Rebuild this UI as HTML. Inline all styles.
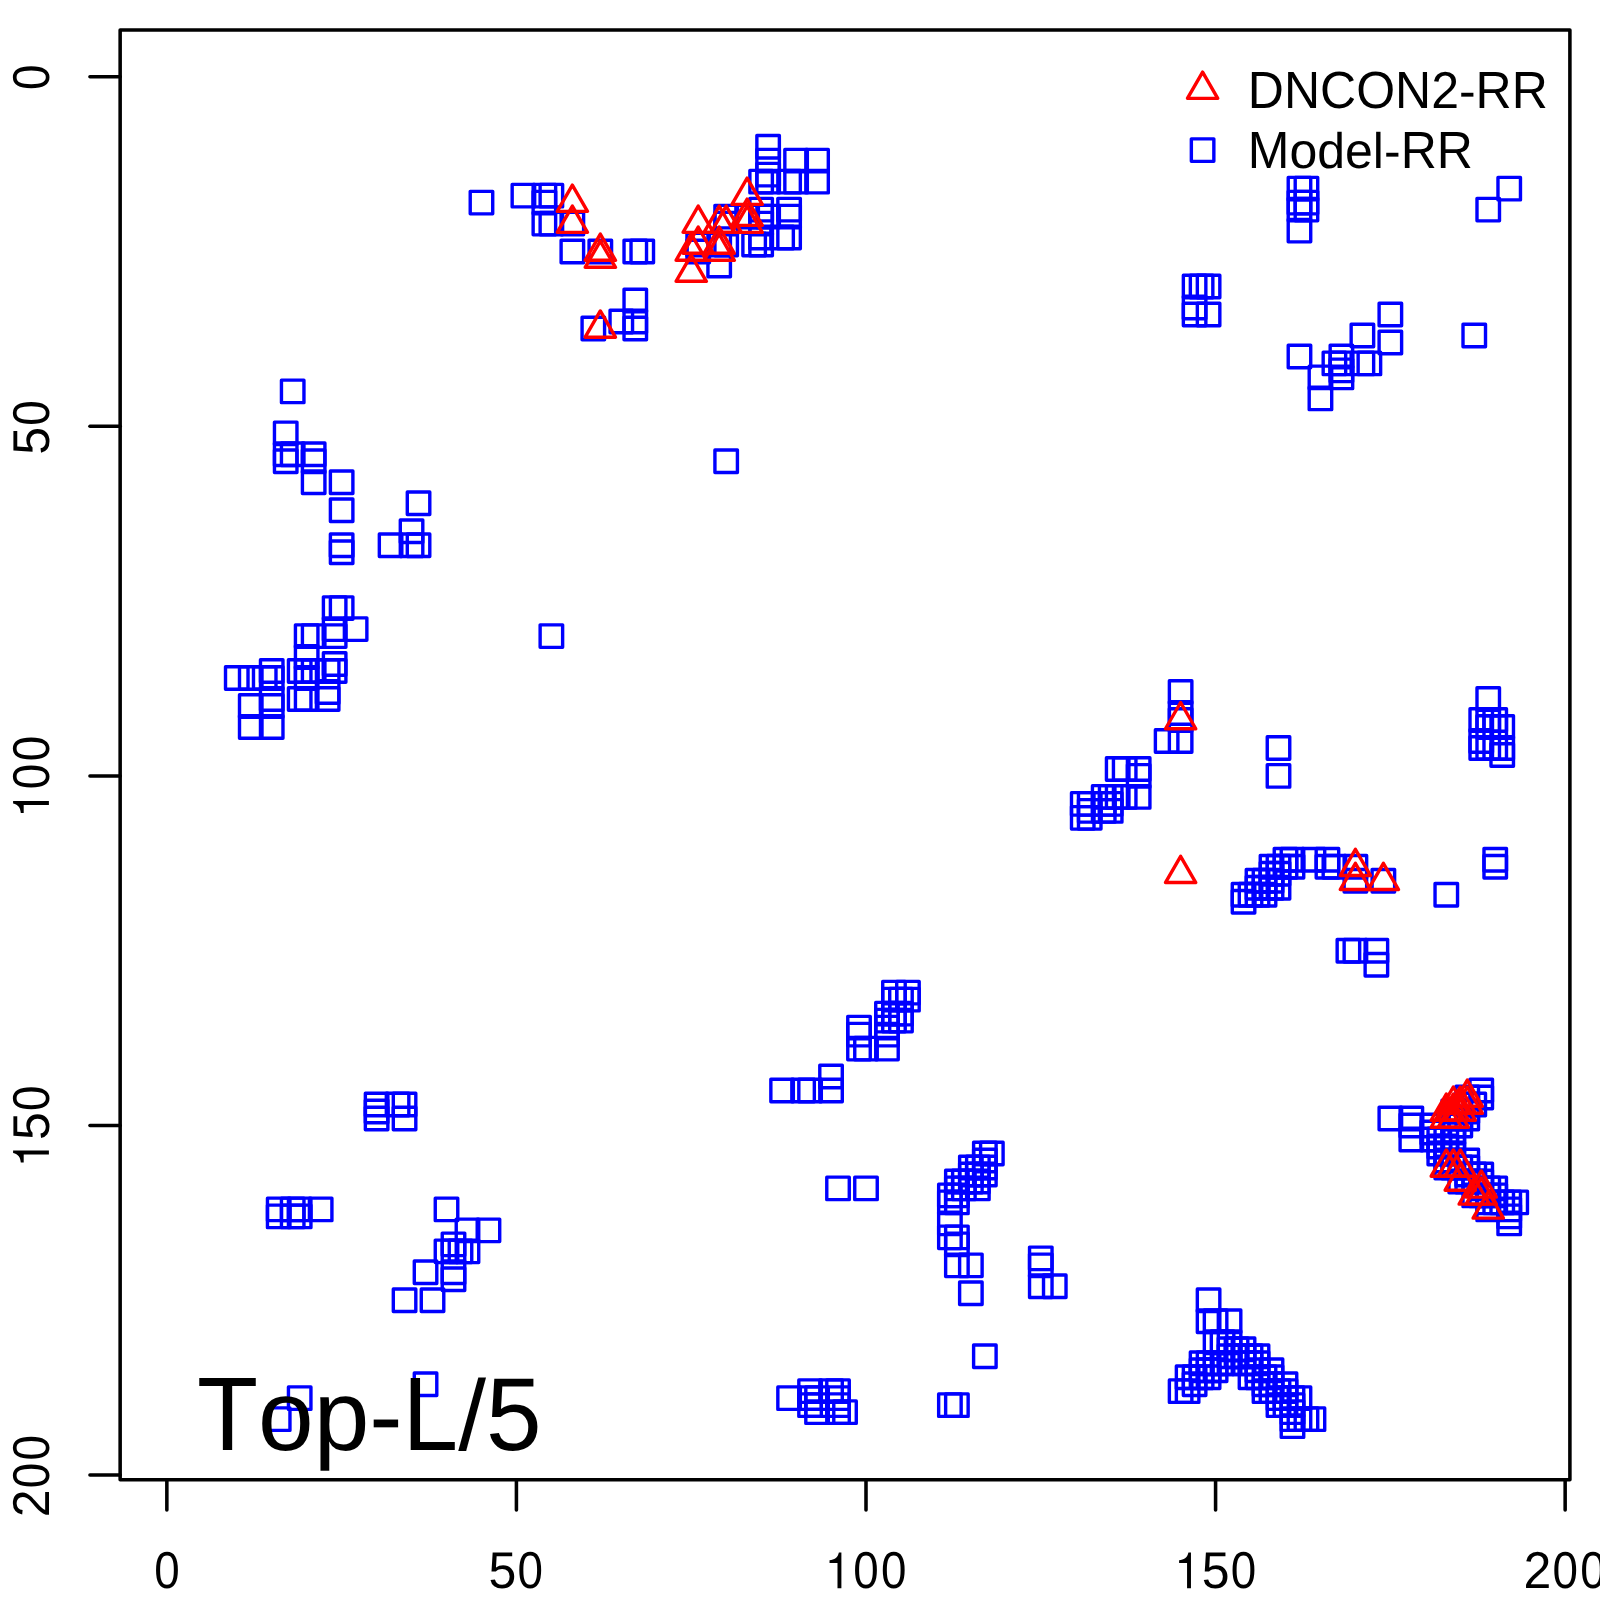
<!DOCTYPE html>
<html><head><meta charset="utf-8"><title>Contact map</title>
<style>html,body{margin:0;padding:0;background:#fff;}body{width:1600px;height:1600px;overflow:hidden;font-family:"Liberation Sans",sans-serif;}svg{display:block;}text{font-kerning:none;font-variant-ligatures:none;text-rendering:geometricPrecision;}</style>
</head><body>
<svg width="1600" height="1600" viewBox="0 0 1600 1600">
<rect x="0" y="0" width="1600" height="1600" fill="#ffffff"/>
<g fill="none" stroke="#0000ff" stroke-width="3.40" stroke-linejoin="round"><rect x="281.45" y="380.14" width="22.50" height="22.50"/><rect x="470.22" y="191.37" width="22.50" height="22.50"/><rect x="274.46" y="422.09" width="22.50" height="22.50"/><rect x="512.17" y="184.38" width="22.50" height="22.50"/><rect x="274.46" y="443.06" width="22.50" height="22.50"/><rect x="533.14" y="184.38" width="22.50" height="22.50"/><rect x="281.45" y="443.06" width="22.50" height="22.50"/><rect x="533.14" y="191.37" width="22.50" height="22.50"/><rect x="274.46" y="450.05" width="22.50" height="22.50"/><rect x="540.13" y="184.38" width="22.50" height="22.50"/><rect x="302.42" y="443.06" width="22.50" height="22.50"/><rect x="533.14" y="212.34" width="22.50" height="22.50"/><rect x="302.42" y="450.05" width="22.50" height="22.50"/><rect x="540.13" y="212.34" width="22.50" height="22.50"/><rect x="302.42" y="471.03" width="22.50" height="22.50"/><rect x="561.11" y="212.34" width="22.50" height="22.50"/><rect x="330.39" y="471.03" width="22.50" height="22.50"/><rect x="561.11" y="240.31" width="22.50" height="22.50"/><rect x="330.39" y="498.99" width="22.50" height="22.50"/><rect x="589.07" y="240.31" width="22.50" height="22.50"/><rect x="330.39" y="533.95" width="22.50" height="22.50"/><rect x="624.03" y="240.31" width="22.50" height="22.50"/><rect x="330.39" y="540.94" width="22.50" height="22.50"/><rect x="631.02" y="240.31" width="22.50" height="22.50"/><rect x="407.29" y="492.00" width="22.50" height="22.50"/><rect x="582.08" y="317.21" width="22.50" height="22.50"/><rect x="400.30" y="519.97" width="22.50" height="22.50"/><rect x="610.05" y="310.22" width="22.50" height="22.50"/><rect x="379.33" y="533.95" width="22.50" height="22.50"/><rect x="624.03" y="289.25" width="22.50" height="22.50"/><rect x="400.30" y="533.95" width="22.50" height="22.50"/><rect x="624.03" y="310.22" width="22.50" height="22.50"/><rect x="407.29" y="533.95" width="22.50" height="22.50"/><rect x="624.03" y="317.21" width="22.50" height="22.50"/><rect x="323.40" y="596.87" width="22.50" height="22.50"/><rect x="686.95" y="233.32" width="22.50" height="22.50"/><rect x="330.39" y="596.87" width="22.50" height="22.50"/><rect x="686.95" y="240.31" width="22.50" height="22.50"/><rect x="344.37" y="617.85" width="22.50" height="22.50"/><rect x="707.93" y="254.29" width="22.50" height="22.50"/><rect x="323.40" y="617.85" width="22.50" height="22.50"/><rect x="707.93" y="233.32" width="22.50" height="22.50"/><rect x="323.40" y="624.84" width="22.50" height="22.50"/><rect x="714.92" y="233.32" width="22.50" height="22.50"/><rect x="295.43" y="624.84" width="22.50" height="22.50"/><rect x="714.92" y="205.35" width="22.50" height="22.50"/><rect x="302.42" y="624.84" width="22.50" height="22.50"/><rect x="714.92" y="212.34" width="22.50" height="22.50"/><rect x="295.43" y="645.81" width="22.50" height="22.50"/><rect x="735.89" y="205.35" width="22.50" height="22.50"/><rect x="323.40" y="652.81" width="22.50" height="22.50"/><rect x="742.89" y="233.32" width="22.50" height="22.50"/><rect x="323.40" y="659.80" width="22.50" height="22.50"/><rect x="749.88" y="233.32" width="22.50" height="22.50"/><rect x="288.44" y="659.80" width="22.50" height="22.50"/><rect x="749.88" y="198.36" width="22.50" height="22.50"/><rect x="295.43" y="659.80" width="22.50" height="22.50"/><rect x="749.88" y="205.35" width="22.50" height="22.50"/><rect x="302.42" y="659.80" width="22.50" height="22.50"/><rect x="749.88" y="212.34" width="22.50" height="22.50"/><rect x="316.40" y="659.80" width="22.50" height="22.50"/><rect x="749.88" y="226.32" width="22.50" height="22.50"/><rect x="295.43" y="666.79" width="22.50" height="22.50"/><rect x="756.87" y="205.35" width="22.50" height="22.50"/><rect x="316.40" y="680.77" width="22.50" height="22.50"/><rect x="770.85" y="226.32" width="22.50" height="22.50"/><rect x="288.44" y="687.76" width="22.50" height="22.50"/><rect x="777.84" y="198.36" width="22.50" height="22.50"/><rect x="295.43" y="687.76" width="22.50" height="22.50"/><rect x="777.84" y="205.35" width="22.50" height="22.50"/><rect x="316.40" y="687.76" width="22.50" height="22.50"/><rect x="777.84" y="226.32" width="22.50" height="22.50"/><rect x="260.47" y="659.80" width="22.50" height="22.50"/><rect x="749.88" y="170.39" width="22.50" height="22.50"/><rect x="260.47" y="666.79" width="22.50" height="22.50"/><rect x="756.87" y="170.39" width="22.50" height="22.50"/><rect x="225.51" y="666.79" width="22.50" height="22.50"/><rect x="756.87" y="135.44" width="22.50" height="22.50"/><rect x="239.50" y="666.79" width="22.50" height="22.50"/><rect x="756.87" y="149.42" width="22.50" height="22.50"/><rect x="253.48" y="666.79" width="22.50" height="22.50"/><rect x="756.87" y="163.40" width="22.50" height="22.50"/><rect x="260.47" y="687.76" width="22.50" height="22.50"/><rect x="777.84" y="170.39" width="22.50" height="22.50"/><rect x="260.47" y="694.75" width="22.50" height="22.50"/><rect x="784.84" y="170.39" width="22.50" height="22.50"/><rect x="239.50" y="694.75" width="22.50" height="22.50"/><rect x="784.84" y="149.42" width="22.50" height="22.50"/><rect x="260.47" y="715.73" width="22.50" height="22.50"/><rect x="805.81" y="170.39" width="22.50" height="22.50"/><rect x="239.50" y="715.73" width="22.50" height="22.50"/><rect x="805.81" y="149.42" width="22.50" height="22.50"/><rect x="540.13" y="624.84" width="22.50" height="22.50"/><rect x="714.92" y="450.05" width="22.50" height="22.50"/><rect x="365.35" y="1093.27" width="22.50" height="22.50"/><rect x="1183.35" y="275.26" width="22.50" height="22.50"/><rect x="365.35" y="1100.26" width="22.50" height="22.50"/><rect x="1190.34" y="275.26" width="22.50" height="22.50"/><rect x="365.35" y="1107.25" width="22.50" height="22.50"/><rect x="1197.33" y="275.26" width="22.50" height="22.50"/><rect x="386.32" y="1093.27" width="22.50" height="22.50"/><rect x="1183.35" y="296.24" width="22.50" height="22.50"/><rect x="393.31" y="1093.27" width="22.50" height="22.50"/><rect x="1183.35" y="303.23" width="22.50" height="22.50"/><rect x="393.31" y="1107.25" width="22.50" height="22.50"/><rect x="1197.33" y="303.23" width="22.50" height="22.50"/><rect x="267.46" y="1198.14" width="22.50" height="22.50"/><rect x="1288.22" y="177.38" width="22.50" height="22.50"/><rect x="267.46" y="1205.13" width="22.50" height="22.50"/><rect x="1295.21" y="177.38" width="22.50" height="22.50"/><rect x="281.45" y="1198.14" width="22.50" height="22.50"/><rect x="1288.22" y="191.37" width="22.50" height="22.50"/><rect x="281.45" y="1205.13" width="22.50" height="22.50"/><rect x="1295.21" y="191.37" width="22.50" height="22.50"/><rect x="288.44" y="1198.14" width="22.50" height="22.50"/><rect x="1288.22" y="198.36" width="22.50" height="22.50"/><rect x="288.44" y="1205.13" width="22.50" height="22.50"/><rect x="1295.21" y="198.36" width="22.50" height="22.50"/><rect x="309.41" y="1198.14" width="22.50" height="22.50"/><rect x="1288.22" y="219.33" width="22.50" height="22.50"/><rect x="435.26" y="1198.14" width="22.50" height="22.50"/><rect x="1288.22" y="345.18" width="22.50" height="22.50"/><rect x="477.21" y="1219.12" width="22.50" height="22.50"/><rect x="1309.20" y="387.13" width="22.50" height="22.50"/><rect x="456.23" y="1219.12" width="22.50" height="22.50"/><rect x="1309.20" y="366.15" width="22.50" height="22.50"/><rect x="442.25" y="1233.10" width="22.50" height="22.50"/><rect x="1323.18" y="352.17" width="22.50" height="22.50"/><rect x="435.26" y="1240.09" width="22.50" height="22.50"/><rect x="1330.17" y="345.18" width="22.50" height="22.50"/><rect x="442.25" y="1240.09" width="22.50" height="22.50"/><rect x="1330.17" y="352.17" width="22.50" height="22.50"/><rect x="449.24" y="1240.09" width="22.50" height="22.50"/><rect x="1330.17" y="359.16" width="22.50" height="22.50"/><rect x="456.23" y="1240.09" width="22.50" height="22.50"/><rect x="1330.17" y="366.15" width="22.50" height="22.50"/><rect x="414.29" y="1261.07" width="22.50" height="22.50"/><rect x="1351.15" y="324.21" width="22.50" height="22.50"/><rect x="442.25" y="1261.07" width="22.50" height="22.50"/><rect x="1351.15" y="352.17" width="22.50" height="22.50"/><rect x="442.25" y="1268.06" width="22.50" height="22.50"/><rect x="1358.14" y="352.17" width="22.50" height="22.50"/><rect x="393.31" y="1289.03" width="22.50" height="22.50"/><rect x="1379.11" y="303.23" width="22.50" height="22.50"/><rect x="421.28" y="1289.03" width="22.50" height="22.50"/><rect x="1379.11" y="331.20" width="22.50" height="22.50"/><rect x="414.29" y="1372.93" width="22.50" height="22.50"/><rect x="1463.01" y="324.21" width="22.50" height="22.50"/><rect x="288.44" y="1386.91" width="22.50" height="22.50"/><rect x="1476.99" y="198.36" width="22.50" height="22.50"/><rect x="267.46" y="1407.89" width="22.50" height="22.50"/><rect x="1497.97" y="177.38" width="22.50" height="22.50"/><rect x="770.85" y="1079.29" width="22.50" height="22.50"/><rect x="1169.37" y="680.77" width="22.50" height="22.50"/><rect x="791.83" y="1079.29" width="22.50" height="22.50"/><rect x="1169.37" y="701.75" width="22.50" height="22.50"/><rect x="798.82" y="1079.29" width="22.50" height="22.50"/><rect x="1169.37" y="708.74" width="22.50" height="22.50"/><rect x="819.79" y="1079.29" width="22.50" height="22.50"/><rect x="1169.37" y="729.71" width="22.50" height="22.50"/><rect x="819.79" y="1065.30" width="22.50" height="22.50"/><rect x="1155.38" y="729.71" width="22.50" height="22.50"/><rect x="847.76" y="1016.36" width="22.50" height="22.50"/><rect x="1106.44" y="757.68" width="22.50" height="22.50"/><rect x="847.76" y="1023.36" width="22.50" height="22.50"/><rect x="1113.44" y="757.68" width="22.50" height="22.50"/><rect x="847.76" y="1037.34" width="22.50" height="22.50"/><rect x="1127.42" y="757.68" width="22.50" height="22.50"/><rect x="854.75" y="1037.34" width="22.50" height="22.50"/><rect x="1127.42" y="764.67" width="22.50" height="22.50"/><rect x="875.72" y="1016.36" width="22.50" height="22.50"/><rect x="1106.44" y="785.64" width="22.50" height="22.50"/><rect x="875.72" y="1023.36" width="22.50" height="22.50"/><rect x="1113.44" y="785.64" width="22.50" height="22.50"/><rect x="875.72" y="1037.34" width="22.50" height="22.50"/><rect x="1127.42" y="785.64" width="22.50" height="22.50"/><rect x="875.72" y="1002.38" width="22.50" height="22.50"/><rect x="1092.46" y="785.64" width="22.50" height="22.50"/><rect x="875.72" y="1009.37" width="22.50" height="22.50"/><rect x="1099.45" y="785.64" width="22.50" height="22.50"/><rect x="882.72" y="1002.38" width="22.50" height="22.50"/><rect x="1092.46" y="792.64" width="22.50" height="22.50"/><rect x="882.72" y="1009.37" width="22.50" height="22.50"/><rect x="1099.45" y="792.64" width="22.50" height="22.50"/><rect x="889.71" y="1002.38" width="22.50" height="22.50"/><rect x="1092.46" y="799.63" width="22.50" height="22.50"/><rect x="889.71" y="1009.37" width="22.50" height="22.50"/><rect x="1099.45" y="799.63" width="22.50" height="22.50"/><rect x="882.72" y="981.41" width="22.50" height="22.50"/><rect x="1071.49" y="792.64" width="22.50" height="22.50"/><rect x="896.70" y="981.41" width="22.50" height="22.50"/><rect x="1071.49" y="806.62" width="22.50" height="22.50"/><rect x="882.72" y="988.40" width="22.50" height="22.50"/><rect x="1078.48" y="792.64" width="22.50" height="22.50"/><rect x="889.71" y="988.40" width="22.50" height="22.50"/><rect x="1078.48" y="799.63" width="22.50" height="22.50"/><rect x="896.70" y="988.40" width="22.50" height="22.50"/><rect x="1078.48" y="806.62" width="22.50" height="22.50"/><rect x="826.78" y="1177.17" width="22.50" height="22.50"/><rect x="1267.25" y="736.70" width="22.50" height="22.50"/><rect x="854.75" y="1177.17" width="22.50" height="22.50"/><rect x="1267.25" y="764.67" width="22.50" height="22.50"/><rect x="938.65" y="1184.16" width="22.50" height="22.50"/><rect x="1274.24" y="848.57" width="22.50" height="22.50"/><rect x="938.65" y="1191.15" width="22.50" height="22.50"/><rect x="1281.23" y="848.57" width="22.50" height="22.50"/><rect x="938.65" y="1212.13" width="22.50" height="22.50"/><rect x="1302.21" y="848.57" width="22.50" height="22.50"/><rect x="938.65" y="1226.11" width="22.50" height="22.50"/><rect x="1316.19" y="848.57" width="22.50" height="22.50"/><rect x="945.64" y="1170.18" width="22.50" height="22.50"/><rect x="1260.26" y="855.56" width="22.50" height="22.50"/><rect x="945.64" y="1177.17" width="22.50" height="22.50"/><rect x="1267.25" y="855.56" width="22.50" height="22.50"/><rect x="945.64" y="1184.16" width="22.50" height="22.50"/><rect x="1274.24" y="855.56" width="22.50" height="22.50"/><rect x="945.64" y="1191.15" width="22.50" height="22.50"/><rect x="1281.23" y="855.56" width="22.50" height="22.50"/><rect x="945.64" y="1226.11" width="22.50" height="22.50"/><rect x="1316.19" y="855.56" width="22.50" height="22.50"/><rect x="945.64" y="1233.10" width="22.50" height="22.50"/><rect x="1323.18" y="855.56" width="22.50" height="22.50"/><rect x="945.64" y="1254.08" width="22.50" height="22.50"/><rect x="1344.15" y="855.56" width="22.50" height="22.50"/><rect x="952.63" y="1170.18" width="22.50" height="22.50"/><rect x="1260.26" y="862.55" width="22.50" height="22.50"/><rect x="952.63" y="1177.17" width="22.50" height="22.50"/><rect x="1267.25" y="862.55" width="22.50" height="22.50"/><rect x="959.62" y="1156.19" width="22.50" height="22.50"/><rect x="1246.27" y="869.54" width="22.50" height="22.50"/><rect x="959.62" y="1163.19" width="22.50" height="22.50"/><rect x="1253.27" y="869.54" width="22.50" height="22.50"/><rect x="959.62" y="1170.18" width="22.50" height="22.50"/><rect x="1260.26" y="869.54" width="22.50" height="22.50"/><rect x="959.62" y="1254.08" width="22.50" height="22.50"/><rect x="1344.15" y="869.54" width="22.50" height="22.50"/><rect x="959.62" y="1282.04" width="22.50" height="22.50"/><rect x="1372.12" y="869.54" width="22.50" height="22.50"/><rect x="966.61" y="1156.19" width="22.50" height="22.50"/><rect x="1246.27" y="876.53" width="22.50" height="22.50"/><rect x="966.61" y="1163.19" width="22.50" height="22.50"/><rect x="1253.27" y="876.53" width="22.50" height="22.50"/><rect x="966.61" y="1170.18" width="22.50" height="22.50"/><rect x="1260.26" y="876.53" width="22.50" height="22.50"/><rect x="966.61" y="1177.17" width="22.50" height="22.50"/><rect x="1267.25" y="876.53" width="22.50" height="22.50"/><rect x="973.61" y="1142.21" width="22.50" height="22.50"/><rect x="1232.29" y="883.53" width="22.50" height="22.50"/><rect x="973.61" y="1149.20" width="22.50" height="22.50"/><rect x="1239.28" y="883.53" width="22.50" height="22.50"/><rect x="973.61" y="1156.19" width="22.50" height="22.50"/><rect x="1246.27" y="883.53" width="22.50" height="22.50"/><rect x="973.61" y="1163.19" width="22.50" height="22.50"/><rect x="1253.27" y="883.53" width="22.50" height="22.50"/><rect x="980.60" y="1142.21" width="22.50" height="22.50"/><rect x="1232.29" y="890.52" width="22.50" height="22.50"/><rect x="1029.54" y="1247.08" width="22.50" height="22.50"/><rect x="1337.16" y="939.46" width="22.50" height="22.50"/><rect x="1029.54" y="1254.08" width="22.50" height="22.50"/><rect x="1344.15" y="939.46" width="22.50" height="22.50"/><rect x="1029.54" y="1275.05" width="22.50" height="22.50"/><rect x="1365.13" y="939.46" width="22.50" height="22.50"/><rect x="1043.52" y="1275.05" width="22.50" height="22.50"/><rect x="1365.13" y="953.44" width="22.50" height="22.50"/><rect x="973.61" y="1344.96" width="22.50" height="22.50"/><rect x="1435.04" y="883.53" width="22.50" height="22.50"/><rect x="938.65" y="1393.90" width="22.50" height="22.50"/><rect x="1483.98" y="848.57" width="22.50" height="22.50"/><rect x="945.64" y="1393.90" width="22.50" height="22.50"/><rect x="1483.98" y="855.56" width="22.50" height="22.50"/><rect x="777.84" y="1386.91" width="22.50" height="22.50"/><rect x="1476.99" y="687.76" width="22.50" height="22.50"/><rect x="798.82" y="1379.92" width="22.50" height="22.50"/><rect x="1470.00" y="708.74" width="22.50" height="22.50"/><rect x="798.82" y="1386.91" width="22.50" height="22.50"/><rect x="1476.99" y="708.74" width="22.50" height="22.50"/><rect x="798.82" y="1393.90" width="22.50" height="22.50"/><rect x="1483.98" y="708.74" width="22.50" height="22.50"/><rect x="805.81" y="1386.91" width="22.50" height="22.50"/><rect x="1476.99" y="715.73" width="22.50" height="22.50"/><rect x="805.81" y="1393.90" width="22.50" height="22.50"/><rect x="1483.98" y="715.73" width="22.50" height="22.50"/><rect x="805.81" y="1400.90" width="22.50" height="22.50"/><rect x="1490.98" y="715.73" width="22.50" height="22.50"/><rect x="826.78" y="1379.92" width="22.50" height="22.50"/><rect x="1470.00" y="736.70" width="22.50" height="22.50"/><rect x="826.78" y="1386.91" width="22.50" height="22.50"/><rect x="1476.99" y="736.70" width="22.50" height="22.50"/><rect x="826.78" y="1393.90" width="22.50" height="22.50"/><rect x="1483.98" y="736.70" width="22.50" height="22.50"/><rect x="826.78" y="1400.90" width="22.50" height="22.50"/><rect x="1490.98" y="736.70" width="22.50" height="22.50"/><rect x="819.79" y="1379.92" width="22.50" height="22.50"/><rect x="1470.00" y="729.71" width="22.50" height="22.50"/><rect x="833.78" y="1400.90" width="22.50" height="22.50"/><rect x="1490.98" y="743.70" width="22.50" height="22.50"/><rect x="1169.37" y="1379.92" width="22.50" height="22.50"/><rect x="1470.00" y="1079.29" width="22.50" height="22.50"/><rect x="1176.36" y="1365.94" width="22.50" height="22.50"/><rect x="1456.02" y="1086.28" width="22.50" height="22.50"/><rect x="1176.36" y="1379.92" width="22.50" height="22.50"/><rect x="1470.00" y="1086.28" width="22.50" height="22.50"/><rect x="1183.35" y="1365.94" width="22.50" height="22.50"/><rect x="1456.02" y="1093.27" width="22.50" height="22.50"/><rect x="1183.35" y="1372.93" width="22.50" height="22.50"/><rect x="1463.01" y="1093.27" width="22.50" height="22.50"/><rect x="1190.34" y="1351.96" width="22.50" height="22.50"/><rect x="1442.04" y="1100.26" width="22.50" height="22.50"/><rect x="1190.34" y="1358.95" width="22.50" height="22.50"/><rect x="1449.03" y="1100.26" width="22.50" height="22.50"/><rect x="1190.34" y="1365.94" width="22.50" height="22.50"/><rect x="1456.02" y="1100.26" width="22.50" height="22.50"/><rect x="1197.33" y="1289.03" width="22.50" height="22.50"/><rect x="1379.11" y="1107.25" width="22.50" height="22.50"/><rect x="1197.33" y="1310.01" width="22.50" height="22.50"/><rect x="1400.09" y="1107.25" width="22.50" height="22.50"/><rect x="1197.33" y="1351.96" width="22.50" height="22.50"/><rect x="1442.04" y="1107.25" width="22.50" height="22.50"/><rect x="1197.33" y="1358.95" width="22.50" height="22.50"/><rect x="1449.03" y="1107.25" width="22.50" height="22.50"/><rect x="1197.33" y="1365.94" width="22.50" height="22.50"/><rect x="1456.02" y="1107.25" width="22.50" height="22.50"/><rect x="1204.33" y="1310.01" width="22.50" height="22.50"/><rect x="1400.09" y="1114.25" width="22.50" height="22.50"/><rect x="1204.33" y="1330.98" width="22.50" height="22.50"/><rect x="1421.06" y="1114.25" width="22.50" height="22.50"/><rect x="1204.33" y="1351.96" width="22.50" height="22.50"/><rect x="1442.04" y="1114.25" width="22.50" height="22.50"/><rect x="1204.33" y="1358.95" width="22.50" height="22.50"/><rect x="1449.03" y="1114.25" width="22.50" height="22.50"/><rect x="1211.32" y="1330.98" width="22.50" height="22.50"/><rect x="1421.06" y="1121.24" width="22.50" height="22.50"/><rect x="1211.32" y="1351.96" width="22.50" height="22.50"/><rect x="1442.04" y="1121.24" width="22.50" height="22.50"/><rect x="1218.31" y="1310.01" width="22.50" height="22.50"/><rect x="1400.09" y="1128.23" width="22.50" height="22.50"/><rect x="1218.31" y="1330.98" width="22.50" height="22.50"/><rect x="1421.06" y="1128.23" width="22.50" height="22.50"/><rect x="1218.31" y="1337.97" width="22.50" height="22.50"/><rect x="1428.05" y="1128.23" width="22.50" height="22.50"/><rect x="1218.31" y="1344.96" width="22.50" height="22.50"/><rect x="1435.04" y="1128.23" width="22.50" height="22.50"/><rect x="1218.31" y="1351.96" width="22.50" height="22.50"/><rect x="1442.04" y="1128.23" width="22.50" height="22.50"/><rect x="1225.30" y="1337.97" width="22.50" height="22.50"/><rect x="1428.05" y="1135.22" width="22.50" height="22.50"/><rect x="1225.30" y="1344.96" width="22.50" height="22.50"/><rect x="1435.04" y="1135.22" width="22.50" height="22.50"/><rect x="1232.29" y="1337.97" width="22.50" height="22.50"/><rect x="1428.05" y="1142.21" width="22.50" height="22.50"/><rect x="1232.29" y="1344.96" width="22.50" height="22.50"/><rect x="1435.04" y="1142.21" width="22.50" height="22.50"/><rect x="1232.29" y="1351.96" width="22.50" height="22.50"/><rect x="1442.04" y="1142.21" width="22.50" height="22.50"/><rect x="1239.28" y="1344.96" width="22.50" height="22.50"/><rect x="1435.04" y="1149.20" width="22.50" height="22.50"/><rect x="1239.28" y="1351.96" width="22.50" height="22.50"/><rect x="1442.04" y="1149.20" width="22.50" height="22.50"/><rect x="1239.28" y="1365.94" width="22.50" height="22.50"/><rect x="1456.02" y="1149.20" width="22.50" height="22.50"/><rect x="1246.27" y="1344.96" width="22.50" height="22.50"/><rect x="1435.04" y="1156.19" width="22.50" height="22.50"/><rect x="1246.27" y="1351.96" width="22.50" height="22.50"/><rect x="1442.04" y="1156.19" width="22.50" height="22.50"/><rect x="1246.27" y="1358.95" width="22.50" height="22.50"/><rect x="1449.03" y="1156.19" width="22.50" height="22.50"/><rect x="1246.27" y="1365.94" width="22.50" height="22.50"/><rect x="1456.02" y="1156.19" width="22.50" height="22.50"/><rect x="1253.27" y="1365.94" width="22.50" height="22.50"/><rect x="1456.02" y="1163.19" width="22.50" height="22.50"/><rect x="1253.27" y="1372.93" width="22.50" height="22.50"/><rect x="1463.01" y="1163.19" width="22.50" height="22.50"/><rect x="1253.27" y="1379.92" width="22.50" height="22.50"/><rect x="1470.00" y="1163.19" width="22.50" height="22.50"/><rect x="1260.26" y="1358.95" width="22.50" height="22.50"/><rect x="1449.03" y="1170.18" width="22.50" height="22.50"/><rect x="1260.26" y="1365.94" width="22.50" height="22.50"/><rect x="1456.02" y="1170.18" width="22.50" height="22.50"/><rect x="1260.26" y="1372.93" width="22.50" height="22.50"/><rect x="1463.01" y="1170.18" width="22.50" height="22.50"/><rect x="1260.26" y="1379.92" width="22.50" height="22.50"/><rect x="1470.00" y="1170.18" width="22.50" height="22.50"/><rect x="1267.25" y="1379.92" width="22.50" height="22.50"/><rect x="1470.00" y="1177.17" width="22.50" height="22.50"/><rect x="1267.25" y="1386.91" width="22.50" height="22.50"/><rect x="1476.99" y="1177.17" width="22.50" height="22.50"/><rect x="1267.25" y="1393.90" width="22.50" height="22.50"/><rect x="1483.98" y="1177.17" width="22.50" height="22.50"/><rect x="1274.24" y="1372.93" width="22.50" height="22.50"/><rect x="1463.01" y="1184.16" width="22.50" height="22.50"/><rect x="1274.24" y="1379.92" width="22.50" height="22.50"/><rect x="1470.00" y="1184.16" width="22.50" height="22.50"/><rect x="1274.24" y="1386.91" width="22.50" height="22.50"/><rect x="1476.99" y="1184.16" width="22.50" height="22.50"/><rect x="1274.24" y="1393.90" width="22.50" height="22.50"/><rect x="1483.98" y="1184.16" width="22.50" height="22.50"/><rect x="1281.23" y="1386.91" width="22.50" height="22.50"/><rect x="1476.99" y="1191.15" width="22.50" height="22.50"/><rect x="1281.23" y="1393.90" width="22.50" height="22.50"/><rect x="1483.98" y="1191.15" width="22.50" height="22.50"/><rect x="1281.23" y="1400.90" width="22.50" height="22.50"/><rect x="1490.98" y="1191.15" width="22.50" height="22.50"/><rect x="1281.23" y="1407.89" width="22.50" height="22.50"/><rect x="1497.97" y="1191.15" width="22.50" height="22.50"/><rect x="1281.23" y="1414.88" width="22.50" height="22.50"/><rect x="1504.96" y="1191.15" width="22.50" height="22.50"/><rect x="1288.22" y="1386.91" width="22.50" height="22.50"/><rect x="1476.99" y="1198.14" width="22.50" height="22.50"/><rect x="1288.22" y="1407.89" width="22.50" height="22.50"/><rect x="1497.97" y="1198.14" width="22.50" height="22.50"/><rect x="1295.21" y="1407.89" width="22.50" height="22.50"/><rect x="1497.97" y="1205.13" width="22.50" height="22.50"/><rect x="1302.21" y="1407.89" width="22.50" height="22.50"/><rect x="1497.97" y="1212.13" width="22.50" height="22.50"/></g>
<g fill="none" stroke="#ff0000" stroke-width="3.40" stroke-linejoin="round"><polygon points="572.36,185.12 587.51,211.37 557.21,211.37"/><polygon points="572.36,206.09 587.51,232.34 557.21,232.34"/><polygon points="600.32,234.06 615.47,260.31 585.17,260.31"/><polygon points="600.32,241.05 615.47,267.30 585.17,267.30"/><polygon points="600.32,310.96 615.47,337.21 585.17,337.21"/><polygon points="747.14,178.13 762.29,204.38 731.99,204.38"/><polygon points="747.14,199.10 762.29,225.35 731.99,225.35"/><polygon points="747.14,206.09 762.29,232.34 731.99,232.34"/><polygon points="698.20,206.09 713.35,232.34 683.05,232.34"/><polygon points="719.18,206.09 734.33,232.34 704.03,232.34"/><polygon points="726.17,206.09 741.32,232.34 711.02,232.34"/><polygon points="698.20,227.07 713.35,253.32 683.05,253.32"/><polygon points="719.18,227.07 734.33,253.32 704.03,253.32"/><polygon points="691.21,234.06 706.36,260.31 676.06,260.31"/><polygon points="719.18,234.06 734.33,260.31 704.03,260.31"/><polygon points="691.21,255.03 706.36,281.28 676.06,281.28"/><polygon points="1180.62,702.49 1195.77,728.74 1165.47,728.74"/><polygon points="1180.62,856.30 1195.77,882.55 1165.47,882.55"/><polygon points="1355.40,849.31 1370.56,875.56 1340.25,875.56"/><polygon points="1355.40,863.29 1370.56,889.54 1340.25,889.54"/><polygon points="1383.37,863.29 1398.52,889.54 1368.22,889.54"/><polygon points="1467.27,1080.03 1482.42,1106.28 1452.12,1106.28"/><polygon points="1467.27,1087.02 1482.42,1113.27 1452.12,1113.27"/><polygon points="1453.29,1087.02 1468.44,1113.27 1438.14,1113.27"/><polygon points="1460.28,1087.02 1475.43,1113.27 1445.13,1113.27"/><polygon points="1446.29,1094.01 1461.44,1120.26 1431.14,1120.26"/><polygon points="1453.29,1094.01 1468.44,1120.26 1438.14,1120.26"/><polygon points="1460.28,1094.01 1475.43,1120.26 1445.13,1120.26"/><polygon points="1446.29,1101.00 1461.44,1127.25 1431.14,1127.25"/><polygon points="1453.29,1101.00 1468.44,1127.25 1438.14,1127.25"/><polygon points="1446.29,1149.94 1461.44,1176.19 1431.14,1176.19"/><polygon points="1453.29,1149.94 1468.44,1176.19 1438.14,1176.19"/><polygon points="1460.28,1149.94 1475.43,1176.19 1445.13,1176.19"/><polygon points="1460.28,1163.93 1475.43,1190.18 1445.13,1190.18"/><polygon points="1481.25,1170.92 1496.40,1197.17 1466.10,1197.17"/><polygon points="1474.26,1177.91 1489.41,1204.16 1459.11,1204.16"/><polygon points="1481.25,1177.91 1496.40,1204.16 1466.10,1204.16"/><polygon points="1488.24,1191.89 1503.39,1218.14 1473.09,1218.14"/></g>
<g fill="none" stroke="#000" stroke-width="3.55" stroke-linecap="round" stroke-linejoin="round"><rect x="120.15" y="30.07" width="1449.75" height="1449.73"/><line x1="166.85" y1="1479.80" x2="166.85" y2="1510.00"/><line x1="120.15" y1="76.77" x2="89.95" y2="76.77"/><line x1="516.42" y1="1479.80" x2="516.42" y2="1510.00"/><line x1="120.15" y1="426.34" x2="89.95" y2="426.34"/><line x1="866.00" y1="1479.80" x2="866.00" y2="1510.00"/><line x1="120.15" y1="775.92" x2="89.95" y2="775.92"/><line x1="1215.58" y1="1479.80" x2="1215.58" y2="1510.00"/><line x1="120.15" y1="1125.50" x2="89.95" y2="1125.50"/><line x1="1565.15" y1="1479.80" x2="1565.15" y2="1510.00"/><line x1="120.15" y1="1475.07" x2="89.95" y2="1475.07"/></g>
<g fill="none" stroke="#ff0000" stroke-width="3.40" stroke-linejoin="round"><polygon points="1202.60,72.10 1217.75,98.35 1187.45,98.35"/></g>
<g fill="none" stroke="#0000ff" stroke-width="3.40" stroke-linejoin="round"><rect x="1191.35" y="138.85" width="22.50" height="22.50"/></g>
<g font-family="'Liberation Sans', sans-serif" font-size="50" fill="#000"><text transform="translate(166.85,1588.30) scale(0.915,1.0350)" text-anchor="middle">0</text><g transform="translate(48.9,77.27) rotate(-90)"><text transform="translate(0.00,0.00) scale(0.915,1.0350)" text-anchor="middle">0</text></g><text transform="translate(488.62,1588.30) scale(1,1.0350)">5</text><text transform="translate(530.33,1588.30) scale(0.915,1.0350)" text-anchor="middle">0</text><g transform="translate(48.9,426.84) rotate(-90)"><text transform="translate(-27.81,0.00) scale(1,1.0350)">5</text><text transform="translate(13.90,0.00) scale(0.915,1.0350)" text-anchor="middle">0</text></g><path d="M837.49,1588.30 L837.49,1563.10 L829.54,1563.10 L829.54,1560.20 C834.29,1559.80 837.69,1557.80 838.89,1552.50 L841.39,1552.50 L841.39,1588.30 Z"/><text transform="translate(866.00,1588.30) scale(0.915,1.0350)" text-anchor="middle">0</text><text transform="translate(893.81,1588.30) scale(0.915,1.0350)" text-anchor="middle">0</text><g transform="translate(48.9,776.42) rotate(-90)"><path d="M-28.51,0.00 L-28.51,-25.20 L-36.46,-25.20 L-36.46,-28.10 C-31.71,-28.50 -28.31,-30.50 -27.11,-35.80 L-24.61,-35.80 L-24.61,0.00 Z"/><text transform="translate(0.00,0.00) scale(0.915,1.0350)" text-anchor="middle">0</text><text transform="translate(27.81,0.00) scale(0.915,1.0350)" text-anchor="middle">0</text></g><path d="M1187.06,1588.30 L1187.06,1563.10 L1179.11,1563.10 L1179.11,1560.20 C1183.86,1559.80 1187.26,1557.80 1188.46,1552.50 L1190.96,1552.50 L1190.96,1588.30 Z"/><text transform="translate(1201.67,1588.30) scale(1,1.0350)">5</text><text transform="translate(1243.38,1588.30) scale(0.915,1.0350)" text-anchor="middle">0</text><g transform="translate(48.9,1126.00) rotate(-90)"><path d="M-28.51,0.00 L-28.51,-25.20 L-36.46,-25.20 L-36.46,-28.10 C-31.71,-28.50 -28.31,-30.50 -27.11,-35.80 L-24.61,-35.80 L-24.61,0.00 Z"/><text transform="translate(-13.90,0.00) scale(1,1.0350)">5</text><text transform="translate(27.81,0.00) scale(0.915,1.0350)" text-anchor="middle">0</text></g><text transform="translate(1523.44,1588.30) scale(1,1.0350)">2</text><text transform="translate(1565.15,1588.30) scale(0.915,1.0350)" text-anchor="middle">0</text><text transform="translate(1592.96,1588.30) scale(0.915,1.0350)" text-anchor="middle">0</text><g transform="translate(48.9,1475.57) rotate(-90)"><text transform="translate(-41.71,0.00) scale(1,1.0350)">2</text><text transform="translate(0.00,0.00) scale(0.915,1.0350)" text-anchor="middle">0</text><text transform="translate(27.81,0.00) scale(0.915,1.0350)" text-anchor="middle">0</text></g><text transform="translate(1247.80,107.80) scale(1,1.0480)">DNCON</text><text transform="translate(1431.13,107.80) scale(1,1.0350)">2</text><text x="1458.93" y="107.80">-</text><text transform="translate(1475.58,107.80) scale(1,1.0480)">RR</text><text transform="translate(1247.80,168.20) scale(1,1.0480)">M</text><text x="1289.45" y="168.20">odel-</text><text transform="translate(1400.63,168.20) scale(1,1.0480)">RR</text></g>
<g font-family="'Liberation Sans', sans-serif" font-size="100" fill="#000"><text transform="translate(197.00,1450.40) scale(1,1.0480)">T</text><text x="258.08" y="1450.40">op-</text><text transform="translate(402.62,1450.40) scale(1,1.0480)">L</text><text x="458.23" y="1450.40">/</text><text transform="translate(486.01,1450.40) scale(1,1.0350)">5</text></g>
</svg>
</body></html>
